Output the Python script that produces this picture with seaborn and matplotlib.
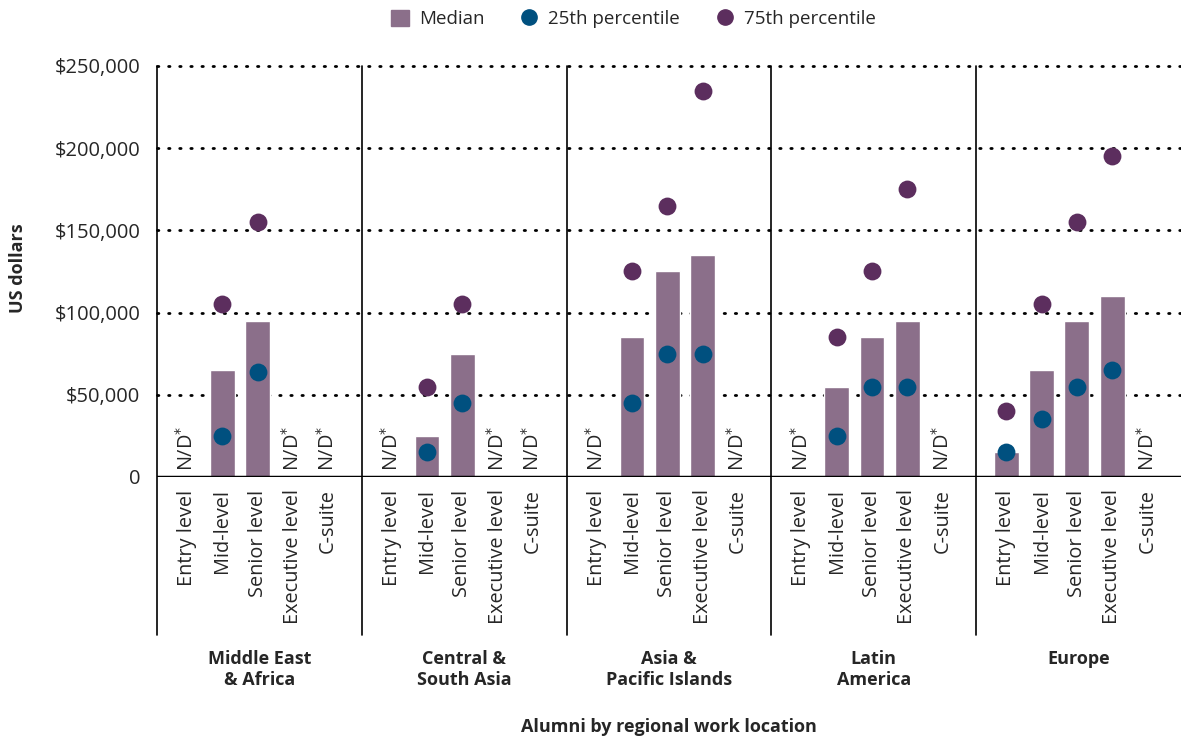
import numpy as np
import pandas as pd
import matplotlib
matplotlib.use("Agg")
import matplotlib.pyplot as plt
import seaborn as sns
from matplotlib.lines import Line2D
from matplotlib.patches import Patch

nan = np.nan

# data
regions = ["Middle East\n& Africa", "Central &\nSouth Asia", "Asia &\nPacific Islands",
           "Latin\nAmerica", "Europe"]
levels = ["Entry level", "Mid-level", "Senior level", "Executive level", "C-suite"]

median_mea = [nan, 65000, 95000, nan, nan]
median_csa = [nan, 25000, 75000, nan, nan]
median_api = [nan, 85000, 125000, 135000, nan]
median_lat = [nan, 55000, 85000, 95000, nan]
median_eur = [15000, 65000, 95000, 110000, nan]

p25_mea = [nan, 25000, 64000, nan, nan]
p25_csa = [nan, 15000, 45000, nan, nan]
p25_api = [nan, 45000, 75000, 75000, nan]
p25_lat = [nan, 25000, 55000, 55000, nan]
p25_eur = [15000, 35000, 55000, 65000, nan]

p75_mea = [nan, 105000, 155000, nan, nan]
p75_csa = [nan, 55000, 105000, nan, nan]
p75_api = [nan, 125000, 165000, 235000, nan]
p75_lat = [nan, 85000, 125000, 175000, nan]
p75_eur = [40000, 105000, 155000, 195000, nan]

medians = [median_mea, median_csa, median_api, median_lat, median_eur]
p25s = [p25_mea, p25_csa, p25_api, p25_lat, p25_eur]
p75s = [p75_mea, p75_csa, p75_api, p75_lat, p75_eur]

BAR_COLOR = "#8b6f8a"
P25_COLOR = "#00507f"
P75_COLOR = "#5c2e5e"
GROUP_W = 5.8
OFFSET = 0.85

# long table, x position computed from group/level index
rows = []
for g, reg in enumerate(regions):
    for i, lev in enumerate(levels):
        rows.append({"region": reg, "level": lev, "x": g * GROUP_W + OFFSET + i,
                     "median": medians[g][i], "p25": p25s[g][i], "p75": p75s[g][i]})
df = pd.DataFrame(rows)

sns.set_style("white")
plt.rcParams["font.family"] = ["Open Sans", "DejaVu Sans"]

fig = plt.figure(figsize=(11.81, 7.38), dpi=100)
ax = fig.add_axes([0.1329, 0.3537, 0.8671, 0.5569])

bars = df.dropna(subset=["median"])
sns.barplot(data=bars, x="x", y="median", native_scale=True, color=BAR_COLOR,
            saturation=1, width=0.7, ax=ax, zorder=3)
sns.scatterplot(data=df.dropna(subset=["p25"]), x="x", y="p25", color=P25_COLOR,
                s=165, linewidth=0, ax=ax, zorder=4)
sns.scatterplot(data=df.dropna(subset=["p75"]), x="x", y="p75", color=P75_COLOR,
                s=165, linewidth=0, ax=ax, zorder=4)

ax.set_xlim(0, GROUP_W * len(regions))
ax.set_ylim(0, 250000)

# dotted grid lines
yt = [0, 50000, 100000, 150000, 200000, 250000]
for v in yt[1:]:
    ax.axhline(v, color="black", lw=2.0, linestyle=(0, (0.5, 3.5)),
               dash_capstyle="round", zorder=1, clip_on=False)
ax.axhline(0, color="black", lw=2.5, zorder=5)
ax.set_yticks(yt)
ax.set_yticklabels(["0"] + [f"${v:,.0f}" for v in yt[1:]], fontsize=14.5)
ax.tick_params(axis="y", length=0, pad=12)

ax.set_xticks(df["x"])
ax.set_xticklabels(df["level"], rotation=90, fontsize=14.3)
ax.tick_params(axis="x", length=0, pad=9)

for s in ["top", "right", "bottom", "left"]:
    ax.spines[s].set_visible(False)

# separators running down through the tick label area
for g in range(len(regions)):
    ax.axvline(g * GROUP_W, ymin=-0.385, ymax=1, color="black", lw=1.2,
               clip_on=False, zorder=2)

# N/D* markers
for _, r in df[df["median"].isna()].iterrows():
    ax.text(r["x"], 3500, r"N/D$^{*}$", rotation=90, ha="center", va="bottom",
            fontsize=14.3, zorder=6)

# region labels
for g, reg in enumerate(regions):
    fig.text((157 + (g + 0.5) * 204.8) / 1181, 1 - 650 / 738, reg, ha="center",
             va="top", fontsize=13, fontweight="bold", linespacing=1.2)

ax.set_xlabel("")
ax.set_ylabel("")
fig.text(0.5665, 1 - 727 / 738, "Alumni by regional work location", ha="center",
         va="center", fontsize=13, fontweight="bold")
fig.text(18 / 1181, 1 - 268 / 738, "US dollars", rotation=90, ha="center",
         va="center", fontsize=13, fontweight="bold")

handles = [Patch(color=BAR_COLOR, label="Median"),
           Line2D([], [], marker="o", ls="", color=P25_COLOR, markersize=11,
                  label="25th percentile"),
           Line2D([], [], marker="o", ls="", color=P75_COLOR, markersize=11,
                  label="75th percentile")]
fig.legend(handles=handles, loc="center", bbox_to_anchor=(0.536, 1 - 19 / 738),
           ncol=3, frameon=False, fontsize=13.5, handlelength=1.0, handleheight=1.0,
           columnspacing=1.9, handletextpad=0.5)

fig.savefig("out.png", dpi=100)
